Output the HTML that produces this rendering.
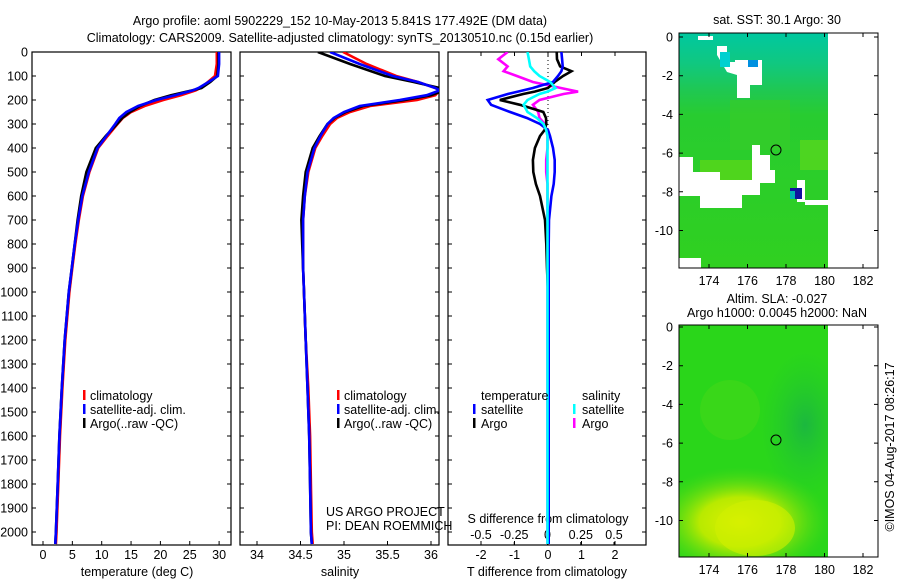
<!DOCTYPE html>
<html><head><meta charset="utf-8">
<style>
html,body{margin:0;padding:0;background:#fff;}
svg{display:block;font-family:"Liberation Sans",sans-serif;}
text{font-size:12.5px;fill:#000;}
</style></head>
<body>
<svg id="chart" width="900" height="580" viewBox="0 0 900 580" xmlns="http://www.w3.org/2000/svg">
<defs>
<clipPath id="c1"><rect x="32" y="52" width="199" height="493"/></clipPath>
<clipPath id="c2"><rect x="240" y="52" width="199" height="493"/></clipPath>
<clipPath id="c3"><rect x="448" y="52" width="198" height="493"/></clipPath>
<clipPath id="cm2"><rect x="679" y="325" width="149" height="232"/></clipPath>
<linearGradient id="sstg" x1="0" y1="0" x2="0" y2="1">
<stop offset="0" stop-color="#00c8a0"/><stop offset="0.13" stop-color="#10c880"/><stop offset="0.25" stop-color="#20c850"/><stop offset="0.35" stop-color="#28cc30"/><stop offset="1" stop-color="#30d020"/>
</linearGradient>
<radialGradient id="yel" cx="0.5" cy="0.5" r="0.5">
<stop offset="0" stop-color="#e0f000"/><stop offset="0.45" stop-color="#b8ea00"/><stop offset="1" stop-color="#50d818" stop-opacity="0"/>
</radialGradient>
<radialGradient id="dk" cx="0.5" cy="0.5" r="0.5">
<stop offset="0" stop-color="#18b048"/><stop offset="1" stop-color="#20c830" stop-opacity="0"/>
</radialGradient>
</defs>

<text x="340" y="25" text-anchor="middle">Argo profile: aoml 5902229_152 10-May-2013 5.841S 177.492E (DM data)</text>
<text x="340" y="42" text-anchor="middle">Climatology: CARS2009. Satellite-adjusted climatology: synTS_20130510.nc (0.15d earlier)</text>

<g id="p1"></g>
<g id="p2"></g>
<g id="p3"></g>

<g>
<rect x="83" y="390" width="2.5" height="10" fill="#f00"/><text x="90" y="400">climatology</text>
<rect x="83" y="404" width="2.5" height="10" fill="#00f"/><text x="90" y="414">satellite-adj. clim.</text>
<rect x="83" y="418" width="2.5" height="10" fill="#000"/><text x="90" y="428">Argo(..raw -QC)</text>
</g>
<g>
<rect x="337" y="390" width="2.5" height="10" fill="#f00"/><text x="344" y="400">climatology</text>
<rect x="337" y="404" width="2.5" height="10" fill="#00f"/><text x="344" y="414">satellite-adj. clim.</text>
<rect x="337" y="418" width="2.5" height="10" fill="#000"/><text x="344" y="428">Argo(..raw -QC)</text>
</g>
<text x="326" y="516">US ARGO PROJECT</text>
<text x="326" y="530">PI: DEAN ROEMMICH</text>
<g>
<text x="481" y="400">temperature</text><text x="582" y="400">salinity</text>
<rect x="473" y="404" width="2.5" height="10" fill="#00f"/><text x="481" y="414">satellite</text>
<rect x="473" y="418" width="2.5" height="10" fill="#000"/><text x="481" y="428">Argo</text>
<rect x="573" y="404" width="2.5" height="10" fill="#0ff"/><text x="582" y="414">satellite</text>
<rect x="573" y="418" width="2.5" height="10" fill="#f0f"/><text x="582" y="428">Argo</text>
</g>

<g>
<text x="777" y="24" text-anchor="middle">sat. SST: 30.1  Argo: 30</text>
<rect x="679" y="33" width="149" height="235" fill="url(#sstg)"/>
<rect x="730" y="100" width="60" height="50" fill="#38cc28" opacity="0.6"/>
<rect x="700" y="160" width="60" height="30" fill="#60d818" opacity="0.7"/>
<rect x="800" y="140" width="28" height="30" fill="#5cd81c" opacity="0.7"/>
<g fill="#fff">
<rect x="698" y="36" width="15" height="4"/>
<polygon points="717,46 727,46 727,62 735,62 735,60 762,60 762,85 750,85 750,98 737,98 737,75 727,72 717,55"/>
<polygon points="679,157 693,157 693,172 720,172 720,180 752,180 752,145 760,145 760,155 770,155 770,170 775,170 775,183 760,183 760,195 742,195 742,208 700,208 700,196 679,196"/>
<rect x="797" y="180" width="8" height="22"/>
<rect x="805" y="200" width="23" height="5"/>
<rect x="679" y="258" width="22" height="10"/>
</g>
<rect x="720" y="52" width="10" height="15" fill="#00d0d0"/>
<rect x="748" y="60" width="10" height="7" fill="#0090e0"/>
<rect x="790" y="188" width="12" height="11" fill="#1010a0"/>
<rect x="790" y="191" width="5" height="8" fill="#00b0b0"/>
<circle cx="776" cy="150" r="5" fill="none" stroke="#000" stroke-width="1"/>
<rect x="679" y="33" width="199" height="235" fill="none" stroke="#000" stroke-width="1"/>
</g>
<g id="m1"></g>

<g>
<text x="777" y="303" text-anchor="middle">Altim. SLA: -0.027</text>
<text x="777" y="317" text-anchor="middle">Argo h1000: 0.0045 h2000: NaN</text>
<g clip-path="url(#cm2)">
<rect x="679" y="325" width="149" height="232" fill="#2ad61a"/>
<ellipse cx="805" cy="425" rx="45" ry="75" fill="url(#dk)" opacity="0.8"/>
<ellipse cx="730" cy="410" rx="30" ry="30" fill="#48d818" opacity="0.5"/>
<ellipse cx="740" cy="522" rx="90" ry="55" fill="url(#yel)"/>
<ellipse cx="755" cy="528" rx="40" ry="28" fill="#d0f000" opacity="0.6"/>
</g>
<circle cx="776" cy="440" r="5" fill="none" stroke="#000" stroke-width="1"/>
<rect x="679" y="325" width="199" height="232" fill="none" stroke="#000" stroke-width="1"/>
</g>
<g id="m2"></g>
<text transform="translate(894,447) rotate(-90)" text-anchor="middle">©IMOS 04-Aug-2017 08:26:17</text>

<script>
var depths = [0,50,100,125,150,160,180,200,225,250,275,300,350,400,500,600,700,800,900,1000,1200,1400,1600,1800,2000,2050];
var climT = [29.6,29.6,29.3,28.1,26.8,26,23.5,20.5,17.3,15,13.6,12.7,11,9.4,7.9,6.8,6.1,5.5,5.0,4.5,3.8,3.3,2.9,2.6,2.3,2.2];
var satT  = [30,30,29.8,28.2,26.5,25.5,22.5,19.3,16.2,14.2,13,12.3,10.8,9.3,7.8,6.7,6.0,5.4,4.9,4.4,3.7,3.2,2.8,2.5,2.2,2.1];
var argoT = [29.9,29.9,29.7,28.5,27,25.4,21.8,19,16.5,14.8,13.5,12.6,10.7,9.0,7.4,6.5,5.9,5.4,4.9,4.4,3.7,3.2,2.8,2.5,2.2,2.1];
var climS = [34.99,35.26,35.6,35.85,36.05,36.1,36.05,35.84,35.3,35.07,34.92,34.84,34.75,34.67,34.59,34.55,34.53,34.53,34.53,34.54,34.56,34.59,34.61,34.62,34.63,34.64];
var satS  = [34.84,35.18,35.56,35.85,36.05,36.1,35.95,35.64,35.18,35.0,34.88,34.81,34.73,34.66,34.58,34.55,34.53,34.53,34.53,34.54,34.56,34.58,34.6,34.61,34.62,34.63];
var argoS = [34.70,35.07,35.47,35.8,36.1,36.15,36.0,35.7,35.22,35.02,34.89,34.81,34.72,34.64,34.56,34.53,34.51,34.52,34.53,34.54,34.56,34.58,34.6,34.61,34.62,34.63];
var diffDepths = [0,30,60,80,100,125,150,165,175,200,220,250,275,300,325,350,400,450,500,550,600,700,800,900,1000,1500,2050];
var tDiffSat  = [0.4,0.42,0.44,0.4,0.3,0.15,-0.45,-0.9,-1.2,-1.8,-1.7,-1.13,-0.63,-0.24,0,0.06,0.15,0.2,0.2,0.17,0.1,0.03,0.02,0.02,0.02,0.02,0.02];
var tDiffArgo = [0.26,0.27,0.36,0.7,0.45,0.2,0,-0.4,-0.74,-1.44,-0.84,-0.14,-0.06,-0.05,-0.1,-0.24,-0.39,-0.45,-0.44,-0.36,-0.24,-0.09,-0.05,-0.03,0,0,0];
var sDiffArgo = [-0.3,-0.37,-0.3,-0.33,-0.23,-0.11,0.1,0.23,0.12,-0.06,-0.11,-0.07,-0.06,-0.02,-0.01,0,0,-0.01,-0.01,0,0,0,0,0,0,0,0];
var sDiffSat  = [-0.15,-0.14,-0.13,-0.1,-0.06,0.02,0.06,0.0,-0.06,-0.15,-0.18,-0.15,-0.08,-0.03,-0.01,0,0,0,0,0,0,0,0,0,0,0,0];
var depthTicks = [0,100,200,300,400,500,600,700,800,900,1000,1100,1200,1300,1400,1500,1600,1700,1800,1900,2000];
var tTicks = [0,5,10,15,20,25,30];
var sTicks = [34,34.5,35,35.5,36];
var tdTicks = [-2,-1,0,1,2];
var sdTicks = [-0.5,-0.25,0,0.25,0.5];
var sdLabels = ['-0.5','-0.25','0','0.25','0.5'];
var lonTicks = [174,176,178,180,182];
var latTicks = [0,-2,-4,-6,-8,-10];

var NS='http://www.w3.org/2000/svg';
function mk(tag, parent){var e=document.createElementNS(NS,tag);parent.appendChild(e);return e;}
function yD(d){return 52+0.24*d;}
function xT(t){return 43+5.87*t;}
function xS(s){return 257+87*(s-34);}
function xTd(v){return 548+33.5*v;}
function xSd(v){return 547.5+133*v;}

function frame(g,x0,w){
  var r=mk('rect',g);r.setAttribute('x',x0);r.setAttribute('y',52);r.setAttribute('width',w);r.setAttribute('height',493);
  r.setAttribute('fill','none');r.setAttribute('stroke','#000');r.setAttribute('stroke-width','1.2');
  
  
  depthTicks.forEach(function(d){
    var l=mk('path',g);l.setAttribute('d','M'+x0+' '+yD(d)+'h4M'+(x0+w)+' '+yD(d)+'h-4');l.setAttribute('stroke','#000');
    
    
  });
}
function xticks(g,ticks,fx,labels,ly,top){
  ticks.forEach(function(t,i){
    var x=fx(t);
    var l=mk('path',g);l.setAttribute('d','M'+x+' 545v-4'+(top?'M'+x+' 52v4':''));l.setAttribute('stroke','#000');
    
    
    var tx=mk('text',g);tx.setAttribute('x',x);tx.setAttribute('y',ly);tx.setAttribute('text-anchor','middle');tx.textContent=labels?labels[i]:String(t);
    
    
  });
}
function line(g,xs,ds,fx,col,clip,name){
  var p=mk('polyline',g);
  p.setAttribute('points',xs.map(function(v,i){return fx(v).toFixed(1)+','+yD(ds[i]).toFixed(1);}).join(' '));
  p.setAttribute('fill','none');p.setAttribute('stroke',col);p.setAttribute('stroke-width','2.6');p.setAttribute('clip-path','url(#'+clip+')');
  
  
}
var p1=document.getElementById('p1'),p2=document.getElementById('p2'),p3=document.getElementById('p3');
frame(p1,32,199);frame(p2,240,199);frame(p3,448,198);
depthTicks.forEach(function(d){
  var t=mk('text',p1);t.setAttribute('x',28);t.setAttribute('y',yD(d)+4.5);t.setAttribute('text-anchor','end');t.textContent=d;
  
  
});
xticks(p1,tTicks,xT,null,559,false);
xticks(p2,sTicks,xS,null,559,false);
xticks(p3,tdTicks,xTd,null,559,true);
sdTicks.forEach(function(t,i){
  var tx=mk('text',p3);tx.setAttribute('x',xSd(t));tx.setAttribute('y',539);tx.setAttribute('text-anchor','middle');tx.textContent=sdLabels[i];
  
  
  var l=mk('path',p3);l.setAttribute('d','M'+xSd(t)+' 545v-3');l.setAttribute('stroke','#000');
  
  
});
[[p1,137,'temperature (deg C)','x-axis-title-temperature'],[p2,340,'salinity','x-axis-title-salinity'],[p3,547,'T difference from climatology','x-axis-title-t-diff']].forEach(function(a){
  var t=mk('text',a[0]);t.setAttribute('x',a[1]);t.setAttribute('y',576);t.setAttribute('text-anchor','middle');t.textContent=a[2];
  
  
});
var st=mk('text',p3);st.setAttribute('x',548);st.setAttribute('y',523);st.setAttribute('text-anchor','middle');st.textContent='S difference from climatology';


var z=mk('path',p3);z.setAttribute('d','M548 52V150');z.setAttribute('stroke','#000');z.setAttribute('stroke-dasharray','1,3');



line(p1,climT,depths,xT,'#f00','c1','climatology-temperature-line');
line(p1,argoT,depths,xT,'#000','c1','argo-temperature-line');
line(p1,satT,depths,xT,'#00f','c1','satellite-temperature-line');
line(p2,climS,depths,xS,'#f00','c2','climatology-salinity-line');
line(p2,argoS,depths,xS,'#000','c2','argo-salinity-line');
line(p2,satS,depths,xS,'#00f','c2','satellite-salinity-line');
line(p3,sDiffArgo,diffDepths,xSd,'#f0f','c3','argo-salinity-diff-line');
line(p3,tDiffArgo,diffDepths,xTd,'#000','c3','argo-temperature-diff-line');
line(p3,tDiffSat,diffDepths,xTd,'#00f','c3','satellite-temperature-diff-line');
line(p3,sDiffSat,diffDepths,xSd,'#0ff','c3','satellite-salinity-diff-line');

function mapAxes(g,y0,y1,lat0,labY){
  lonTicks.forEach(function(lon){
    var x=709+(lon-174)*19.25;
    var l=mk('path',g);l.setAttribute('d','M'+x+' '+y1+'v-4M'+x+' '+y0+'v4');l.setAttribute('stroke','#000');
    
    
    var t=mk('text',g);t.setAttribute('x',x);t.setAttribute('y',labY);t.setAttribute('text-anchor','middle');t.textContent=lon;
    
    
  });
  latTicks.forEach(function(lat){
    var y=lat0-lat*19.35;
    var l=mk('path',g);l.setAttribute('d','M679 '+y+'h4M878 '+y+'h-4');l.setAttribute('stroke','#000');
    
    
    var t=mk('text',g);t.setAttribute('x',673);t.setAttribute('y',y+4.5);t.setAttribute('text-anchor','end');t.textContent=lat;
    
    
  });
}
mapAxes(document.getElementById('m1'),33,268,37,285);
mapAxes(document.getElementById('m2'),325,557,327,574);
</script>
</svg>
</body></html>
